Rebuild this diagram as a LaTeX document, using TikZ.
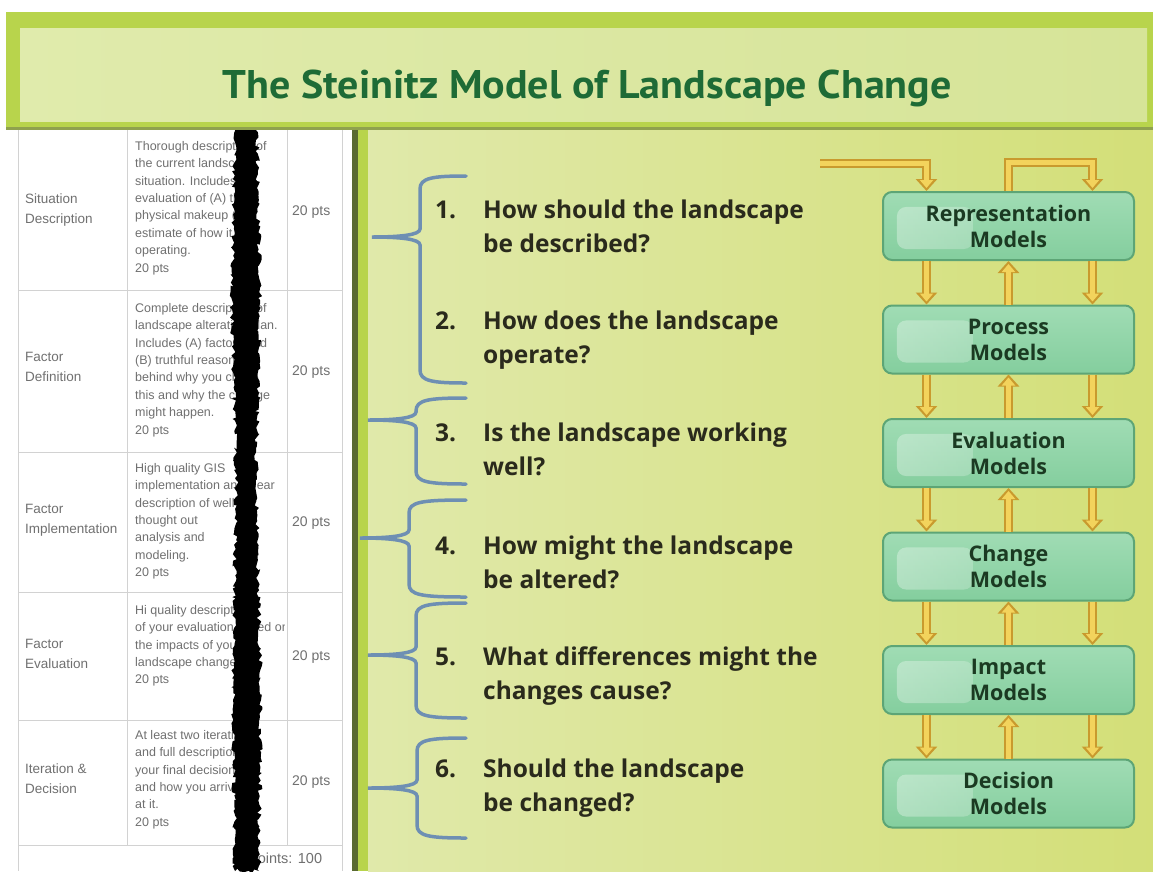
\documentclass[tikz,border=0pt]{standalone}
\usepackage{fontspec}
\setmainfont{Liberation Sans}
\newfontfamily\slidefont{Open Sans}
\newfontfamily\titlefont{PT Sans}[FakeStretch=1.05]
\usepackage{tikz}
\usetikzlibrary{arrows.meta,positioning,decorations.pathmorphing,shadings,fadings}

\definecolor{BannerEdge}{HTML}{B8D44C}
\definecolor{BannerFill}{HTML}{D6E498}
\definecolor{BannerLight}{HTML}{E0EBAC}
\definecolor{BannerShadow}{HTML}{8FA14E}
\definecolor{TitleGreen}{HTML}{1E6B36}
\definecolor{PanelLeft}{HTML}{E0E9AA}
\definecolor{PanelRight}{HTML}{D3DF78}
\definecolor{PanelRule}{HTML}{5A6A32}
\definecolor{BraceBlue}{HTML}{6E8FB3}
\definecolor{QuestionInk}{HTML}{2A2A1C}
\definecolor{BoxTop}{HTML}{A0DCB4}
\definecolor{BoxBottom}{HTML}{84CE9E}
\definecolor{BoxEdge}{HTML}{5DA576}
\definecolor{BoxInk}{HTML}{1B3A22}
\definecolor{ArrowEdge}{HTML}{C99A2E}
\definecolor{ArrowFill}{HTML}{F3D35C}
\definecolor{GridGray}{HTML}{D2D2D2}
\definecolor{CellInk}{HTML}{707070}

\begin{document}
\begin{tikzpicture}[x=1pt, y=-1pt,
modelbox/.style={
	rectangle,
	rounded corners=9pt,
	draw=BoxEdge,
	line width=2pt,
	top color=BoxTop,
	bottom color=BoxBottom,
	minimum width=251pt,
	minimum height=68pt,
	align=center,
	text=BoxInk,
	font=\slidefont\bfseries\fontsize{21.5}{26}\selectfont,
	path picture={\fill[white, opacity=0.35, path fading=east]
		([shift={(14pt,-15pt)}]path picture bounding box.north west) rectangle
		([shift={(90pt,11pt)}]path picture bounding box.south west);}
},
fat/.style={
	draw=ArrowFill,
	line width=5pt,
	shorten >=3pt,
	-{Triangle[width=13pt,length=8pt]},
	preaction={draw=ArrowEdge, line width=9pt, shorten >=0pt,
		-{Triangle[width=21pt,length=12pt]}}
},
brace/.style={
	draw=BraceBlue,
	line width=3.5pt,
	line cap=round
},
question/.style={
	anchor=west,
	inner sep=0pt,
	text=QuestionInk,
	font=\slidefont\bfseries\fontsize{24.5}{34}\selectfont
},
cell/.style={
	anchor=north west,
	inner sep=0pt,
	align=left,
	text=CellInk,
	font=\fontsize{12.5}{17.4}\selectfont
},
rowhead/.style={
	anchor=north west,
	inner sep=0pt,
	align=left,
	text=CellInk,
	font=\fontsize{13.5}{20}\selectfont
},
pts/.style={
	anchor=west,
	inner sep=0pt,
	text=CellInk,
	font=\fontsize{14}{16}\selectfont
},
node distance=43.5pt
]

\useasboundingbox (0,0) rectangle (1153,871);
\fill[white] (0,0) rectangle (1153,871);

% rubric table on the left
\draw[GridGray, line width=0.8pt] (18,130) -- (18,871);
\draw[GridGray, line width=0.8pt] (342,130) -- (342,871);
\draw[GridGray, line width=0.8pt] (127,130) -- (127,845);
\draw[GridGray, line width=0.8pt] (287,130) -- (287,845);
\foreach \y in {290,452,592,720,845}
	\draw[GridGray, line width=0.8pt] (18,\y) -- (342,\y);

\node[rowhead] (h1) at (25,194) {Situation\\Description};
\node[rowhead] (h2) at (25,352) {Factor\\Definition};
\node[rowhead] (h3) at (25,504) {Factor\\Implementation};
\node[rowhead] (h4) at (25,639) {Factor\\Evaluation};
\node[rowhead] (h5) at (25,764) {Iteration \&\\Decision};

\begin{scope}
\clip (130,130) rectangle (284,845);
\node[cell] (c1) at (135,141) {Thorough description of\\the current landscape\\situation. Includes\\evaluation of (A) the\\physical makeup (B)\\estimate of how it is\\operating.\\20 pts};
\node[cell] (c2) at (135,303) {Complete description of\\landscape alteration plan.\\Includes (A) factor used\\(B) truthful reasoning\\behind why you chose\\this and why the change\\might happen.\\20 pts};
\node[cell] (c3) at (135,463) {High quality GIS\\implementation and clear\\description of well\\thought out\\analysis and\\modeling.\\20 pts};
\node[cell] (c4) at (135,605) {Hi quality description\\of your evaluation based on\\the impacts of your\\landscape change.\\20 pts};
\node[cell] (c5) at (135,730) {At least two iterations\\and full description on\\your final decision\\and how you arrived\\at it.\\20 pts};
\end{scope}

\foreach \y/\n in {212/1,372/2,523/3,657/4,782/5}
	\node[pts] (p\n) at (292,\y) {20 pts};
\node[pts, font=\fontsize{14.5}{16}\selectfont] (total) at (248,858) {Points: 100};

% torn black strip
\pgfmathsetseed{11}
\fill[black, decorate, decoration={random steps, segment length=3pt, amplitude=2.4pt}]
	(235,126) -- (232,300) -- (236,480) -- (233,700) -- (235,871) --
	(259,871) -- (261,700) -- (256,480) -- (260,300) -- (257,126) -- cycle;

% slide panel
\fill[PanelRule] (352,126) rectangle (358,871);
\fill[BannerEdge] (358,126) rectangle (368,871);
\shade[left color=PanelLeft, right color=PanelRight] (368,126) rectangle (1153,871);

% title banner
\fill[BannerEdge] (6,12) rectangle (1153,127);
\shade[left color=BannerLight, right color=BannerFill] (20,28) rectangle (1147,121);
\draw[BannerShadow, line width=3pt] (6,128) -- (1153,128);
\node[font=\titlefont\bfseries\fontsize{40}{48}\selectfont, text=TitleGreen] (title)
	at (587,88) {The Steinitz Model of Landscape Change};

% braces
\foreach \t/\m/\b/\x/\tip in {176/237/383/420/372, 398/420/484/416/368,
		500/538/597/409/360, 603/655/718/416/368, 738/788/838/417/368}
	\draw[brace] (466,\t) .. controls (\x+12,\t) and (\x,\t+2) .. (\x,\t+13)
		-- (\x,\m-8) .. controls (\x,\m-2) and (\x-20,\m) .. (\tip,\m)
		.. controls (\x-20,\m) and (\x,\m+2) .. (\x,\m+8)
		-- (\x,\b-13) .. controls (\x,\b-2) and (\x+12,\b) .. (466,\b);

% the six questions
\node[question] (q1) at (435,229) {\begin{tabular}{@{}p{48pt}@{}l@{}}1.&How should the landscape\\&be described?\end{tabular}};
\node[question] (q2) at (435,340) {\begin{tabular}{@{}p{48pt}@{}l@{}}2.&How does the landscape\\&operate?\end{tabular}};
\node[question] (q3) at (435,452) {\begin{tabular}{@{}p{48pt}@{}l@{}}3.&Is the landscape working\\&well?\end{tabular}};
\node[question] (q4) at (435,565) {\begin{tabular}{@{}p{48pt}@{}l@{}}4.&How might the landscape\\&be altered?\end{tabular}};
\node[question] (q5) at (435,676) {\begin{tabular}{@{}p{48pt}@{}l@{}}5.&What differences might the\\&changes cause?\end{tabular}};
\node[question] (q6) at (435,788) {\begin{tabular}{@{}p{48pt}@{}l@{}}6.&Should the landscape\\&be changed?\end{tabular}};

% model boxes
\node[modelbox] (rep) at (1008.5,226) {Representation\\Models};
\node[modelbox, below=of rep] (proc) {Process\\Models};
\node[modelbox, below=of proc] (eval) {Evaluation\\Models};
\node[modelbox, below=of eval] (chg) {Change\\Models};
\node[modelbox, below=of chg] (imp) {Impact\\Models};
\node[modelbox, below=of imp] (dec) {Decision\\Models};

% flows between the models
\coordinate (feed) at (820,163);
\draw[fat] (feed) -| ([xshift=-82pt]rep.north);
\draw[fat] (rep.north) -- ++(0,-29) -| ([xshift=84pt]rep.north);
\foreach \a/\b in {rep/proc, proc/eval, eval/chg, chg/imp, imp/dec} {
	\draw[fat] ([xshift=-82pt]\a.south) -- ([xshift=-82pt]\b.north);
	\draw[fat] (\b.north) -- (\a.south);
	\draw[fat] ([xshift=84pt]\a.south) -- ([xshift=84pt]\b.north);
}

\end{tikzpicture}
\end{document}
